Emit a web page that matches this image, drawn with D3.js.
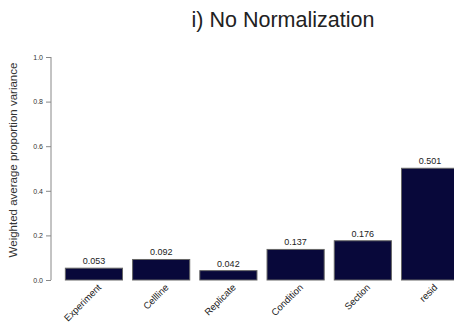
<!DOCTYPE html>
<html lang="en">
<head>
    <meta charset="UTF-8">
    <title>No Normalization</title>
    <script src="https://d3js.org/d3.v7.min.js"></script>
    <style>
        body { margin: 0; background: #fff; font-family: "Liberation Sans", Arial, sans-serif; }
        svg { display: block; }
    </style>
</head>
<body>
    <div id="chart"></div>

    <script>
        // Chart values
        const categories = ["Experiment", "Cellline", "Replicate", "Condition", "Section", "resid"];
        const values = [0.053, 0.092, 0.042, 0.137, 0.176, 0.501];
        const yTicks = [0.0, 0.2, 0.4, 0.6, 0.8, 1.0];

        const width = 454, height = 331;
        const svg = d3.select("#chart").append("svg")
            .attr("width", width)
            .attr("height", height);

        // Scales
        const x = d3.scaleBand()
            .domain(categories)
            .range([62, 462])
            .paddingInner(0.15)
            .paddingOuter(0.05);

        const y = d3.scaleLinear()
            .domain([0, 1])
            .range([280, 57]);

        // Title
        svg.append("text")
            .attr("x", 283)
            .attr("y", 27)
            .attr("text-anchor", "middle")
            .style("font-size", "21.5px")
            .style("fill", "#222")
            .text("i) No Normalization");

        // Y axis
        const yAxis = svg.append("g")
            .attr("transform", "translate(51,0)")
            .call(d3.axisLeft(y).tickValues(yTicks).tickFormat(d3.format(".1f")).tickSize(5).tickPadding(3));
        yAxis.select(".domain").attr("d", `M0,${y(1)}V${y(0)}`).attr("stroke", "#888");
        yAxis.selectAll(".tick line").attr("stroke", "#888");
        yAxis.selectAll(".tick text").style("font-size", "7px").style("fill", "#333")
            .style("font-family", "'Liberation Sans', Arial, sans-serif");

        svg.append("text")
            .attr("transform", "translate(17,160) rotate(-90)")
            .attr("text-anchor", "middle")
            .style("font-size", "11.5px")
            .style("fill", "#333")
            .text("Weighted average proportion variance");

        // Bars
        svg.selectAll(".bar")
            .data(categories)
            .enter().append("rect")
            .attr("class", "bar")
            .attr("x", d => x(d))
            .attr("width", x.bandwidth())
            .attr("y", (d, i) => y(values[i]))
            .attr("height", (d, i) => y(0) - y(values[i]))
            .attr("fill", "#08083a")
            .attr("stroke", "#666")
            .attr("stroke-width", 1);

        // Value labels
        svg.selectAll(".val")
            .data(categories)
            .enter().append("text")
            .attr("class", "val")
            .attr("x", d => x(d) + x.bandwidth() / 2)
            .attr("y", (d, i) => y(values[i]) - 4)
            .attr("text-anchor", "middle")
            .style("font-size", "9px")
            .style("fill", "#222")
            .text((d, i) => values[i].toFixed(3));

        // Category labels
        svg.selectAll(".cat")
            .data(categories)
            .enter().append("text")
            .attr("class", "cat")
            .attr("transform", d => `translate(${x(d) + x.bandwidth() / 2 + 8},${288}) rotate(-45)`)
            .attr("text-anchor", "end")
            .style("font-size", "9.5px")
            .style("fill", "#222")
            .text(d => d);
    </script>
</body>
</html>
